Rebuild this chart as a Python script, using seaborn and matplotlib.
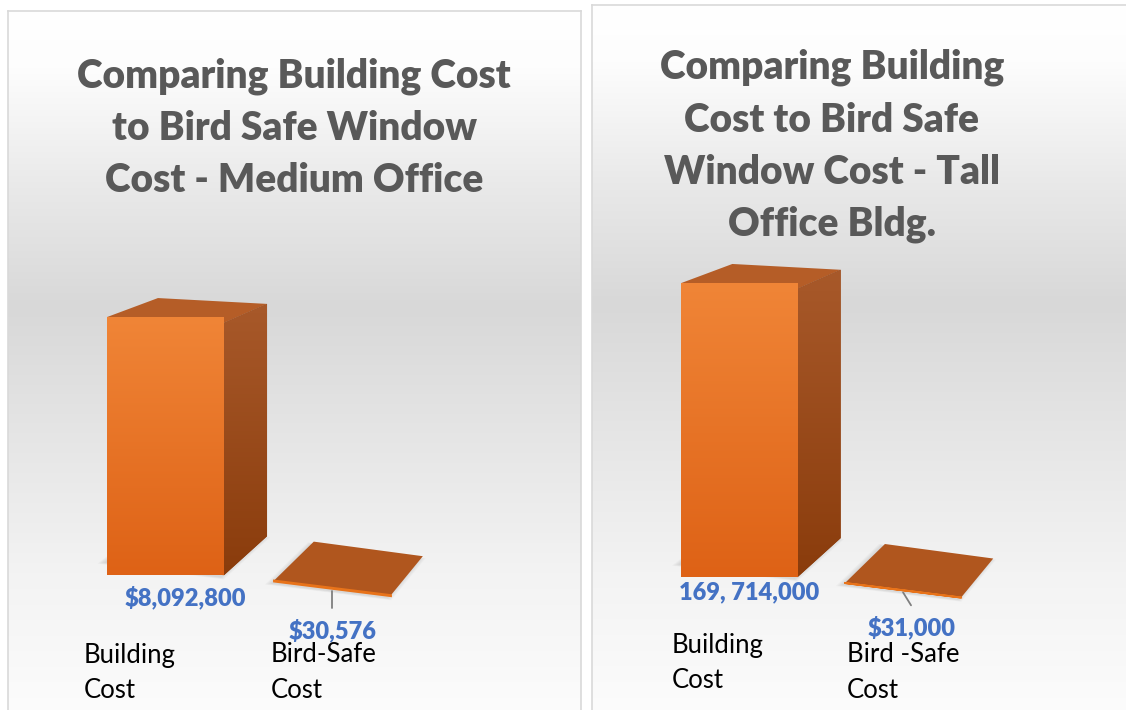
import numpy as np
import pandas as pd
import matplotlib
matplotlib.use("Agg")
import matplotlib.pyplot as plt
import seaborn as sns
from matplotlib.patches import Polygon
from matplotlib.lines import Line2D
from matplotlib.transforms import Transform, IdentityTransform
from matplotlib.colors import LinearSegmentedColormap

# Values
medium_title = "Comparing Building Cost\nto Bird Safe Window\nCost - Medium Office"
medium_categories = ["Building\nCost", "Bird-Safe\nCost"]
medium_costs = [8092800, 30576]
medium_value_labels = ["$8,092,800", "$30,576"]

tall_title = "Comparing Building\nCost to Bird Safe\nWindow Cost - Tall\nOffice Bldg."
tall_categories = ["Building\nCost", "Bird -Safe\nCost"]
tall_costs = [169714000, 31000]
tall_value_labels = ["169, 714,000", "$31,000"]

W, H = 1126, 710

sns.set_theme(style="white")
plt.rcParams["font.family"] = ["Lato", "DejaVu Sans"]

FRONT_TOP, FRONT_BOTTOM = "#f08537", "#de6216"
SIDE_TOP, SIDE_BOTTOM = "#a8592a", "#8a3c0c"
TOP_FACE = "#b55d27"
FLAT_TOP = "#b0561e"
LABEL_BLUE = "#4472c4"
TITLE_GREY = "#595959"

bg_cmap = LinearSegmentedColormap.from_list(
    "bg", [(0, "#ffffff"), (0.08, "#fdfdfd"), (0.25, "#e9e9e9"), (0.42, "#d8d8d8"),
           (0.6, "#e5e5e5"), (0.8, "#f3f3f3"), (1, "#fcfcfc")])

# layout of each panel (pixels / axis fractions)
panels = [
    dict(title=medium_title, categories=medium_categories, costs=medium_costs,
         value_labels=medium_value_labels, box=(8, 11, 581),
         xlim=(-0.943, 2.488), ylim=(-0.593, 2.246), width=0.70,
         title_xy=(294, 128), value_off=[(20, -30), (0, -42)], leader=(0, -19),
         cat_off=[(-82, 673), (-62, 673)]),
    dict(title=tall_title, categories=tall_categories, costs=tall_costs,
         value_labels=tall_value_labels, box=(592, 5, 1131),
         xlim=(-0.902, 2.394), ylim=(-0.511, 1.989), width=0.71,
         title_xy=(832, 146), value_off=[(10, -22), (9, -37)], leader=(8, -15),
         cat_off=[(-68, 663), (-56, 673)]),
]

# simple perspective: floor tilts more than the top, depth shrinks to the right
SLOPE_FLOOR, SLOPE_TOP = 0.125, 0.05
DEPTH_X, DEPTH_X_K = 47, 0.067
DEPTH_Y_FLOOR, DEPTH_Y_TOP = 39, 19


def make_projection(ax, vmax):
    xref, floor = ax.transData.transform((0, 0))
    hmax = ax.transData.transform((0, vmax))[1] - floor

    def project_display(xy, depth=0):
        xy = np.atleast_2d(np.asarray(xy, dtype=float))
        px, py = xy[:, 0], xy[:, 1]
        h = (py - floor) / hmax
        slope = SLOPE_FLOOR + (SLOPE_TOP - SLOPE_FLOOR) * h
        out_x = px + depth * (DEPTH_X - DEPTH_X_K * (px - xref))
        out_y = py - slope * (px - xref) + depth * (DEPTH_Y_FLOOR + (DEPTH_Y_TOP - DEPTH_Y_FLOOR) * h)
        return np.column_stack([out_x, out_y])

    return project_display


class FrontView(Transform):
    input_dims = output_dims = 2

    def __init__(self, project_display):
        super().__init__()
        self.project_display = project_display

    def transform_non_affine(self, values):
        return self.project_display(values, 0)


def gradient_fill(ax, verts, c_top, c_bottom, z, clip=None):
    xs, ys = zip(*verts)
    if clip is None:
        clip = Polygon(verts, closed=True, transform=IdentityTransform(),
                       facecolor=c_bottom, edgecolor="none", zorder=z)
        ax.add_patch(clip)
    cmap = LinearSegmentedColormap.from_list("g", [c_bottom, c_top])
    im = ax.imshow(np.linspace(0, 1, 128).reshape(-1, 1), cmap=cmap, aspect="auto",
                   origin="lower", extent=(min(xs), max(xs), min(ys), max(ys)),
                   transform=IdentityTransform(), zorder=z + 0.01,
                   interpolation="bilinear")
    im.set_clip_path(clip)


fig = plt.figure(figsize=(W / 100, H / 100), dpi=100)

for spec in panels:
    x0, top, x1 = spec["box"]
    ax = fig.add_axes([x0 / W, -5 / H, (x1 - x0) / W, (H + 5 - top) / H])
    df = pd.DataFrame({"category": spec["categories"], "cost": spec["costs"]})
    sns.barplot(data=df, x="category", y="cost", ax=ax, width=spec["width"],
                color=FRONT_BOTTOM, saturation=1, edgecolor="none", errorbar=None, zorder=4)
    bars = list(ax.patches)
    vmax = max(spec["costs"])
    ax.set_xlim(*spec["xlim"])
    ax.set_ylim(spec["ylim"][0] * vmax, spec["ylim"][1] * vmax)
    ax.set_xticks([])
    ax.set_yticks([])
    ax.set_xlabel("")
    ax.set_ylabel("")
    for s in ax.spines.values():
        s.set_color("#d9d9d9")
        s.set_linewidth(1.2)
    ax.imshow(np.linspace(0, 1, 256).reshape(-1, 1), cmap=bg_cmap, aspect="auto",
              extent=(0, 1, 0, 1), transform=ax.transAxes, zorder=0,
              interpolation="bilinear", vmin=0, vmax=1)

    project_display = make_projection(ax, vmax)
    front = FrontView(project_display)

    def project(x, y, depth):
        return project_display(ax.transData.transform((x, y)), depth)[0]

    tx, ty = spec["title_xy"]
    ax.text(tx, H - ty, spec["title"], transform=IdentityTransform(), ha="center",
            va="center", multialignment="center", fontsize=28, fontweight="heavy",
            color=TITLE_GREY, linespacing=1.5)

    for i, p in enumerate(bars):
        bx0 = p.get_x()
        bx1 = bx0 + p.get_width()
        bh = p.get_height()
        cx = bx0 + p.get_width() / 2
        p.set_transform(ax.transData + front)
        ftl, ftr = project(bx0, bh, 0), project(bx1, bh, 0)
        fbl, fbr = project(bx0, 0, 0), project(bx1, 0, 0)
        btl, btr = project(bx0, bh, 1), project(bx1, bh, 1)
        bbl, bbr = project(bx0, 0, 1), project(bx1, 0, 1)
        tall = (ftl[1] - fbl[1]) > 3

        # soft shadow around the footprint
        foot = np.array([fbl, fbr, bbr, bbl])
        centre = foot.mean(axis=0)
        for k in range(5):
            grown = centre + (foot - centre) * (1 + 0.02 * k) + np.array([-3, -2])
            ax.add_patch(Polygon(grown, closed=True, transform=IdentityTransform(),
                                 facecolor="#808080", edgecolor="none", alpha=0.05, zorder=1))

        ax.add_patch(Polygon([ftl, ftr, btr, btl], closed=True, transform=IdentityTransform(),
                             facecolor=TOP_FACE if tall else FLAT_TOP, edgecolor="none", zorder=3))
        if tall:
            gradient_fill(ax, [ftr, fbr, bbr, btr], SIDE_TOP, SIDE_BOTTOM, 3)
            gradient_fill(ax, [ftl, ftr, fbr, fbl], FRONT_TOP, FRONT_BOTTOM, 4, clip=p)
        else:
            p.set_edgecolor("#e8731a")
            p.set_linewidth(1.4)

        lx, ly = project(cx, 0, 0)
        ox, oy = spec["value_off"][i]
        ax.text(lx + ox, ly + oy, spec["value_labels"][i], transform=IdentityTransform(),
                ha="center", va="center", fontsize=17, fontweight="heavy", color=LABEL_BLUE)
        if not tall:
            dx, dy = spec["leader"]
            ax.add_line(Line2D([lx, lx + dx], [ly - 2, ly + dy], transform=IdentityTransform(),
                               color="#7f7f7f", linewidth=1.3, zorder=2))

        cox, coy = spec["cat_off"][i]
        ax.text(lx + cox, H - coy, spec["categories"][i], transform=IdentityTransform(),
                ha="left", va="center", fontsize=18.5, color="black", linespacing=1.55)

fig.savefig("out.png", dpi=100)
